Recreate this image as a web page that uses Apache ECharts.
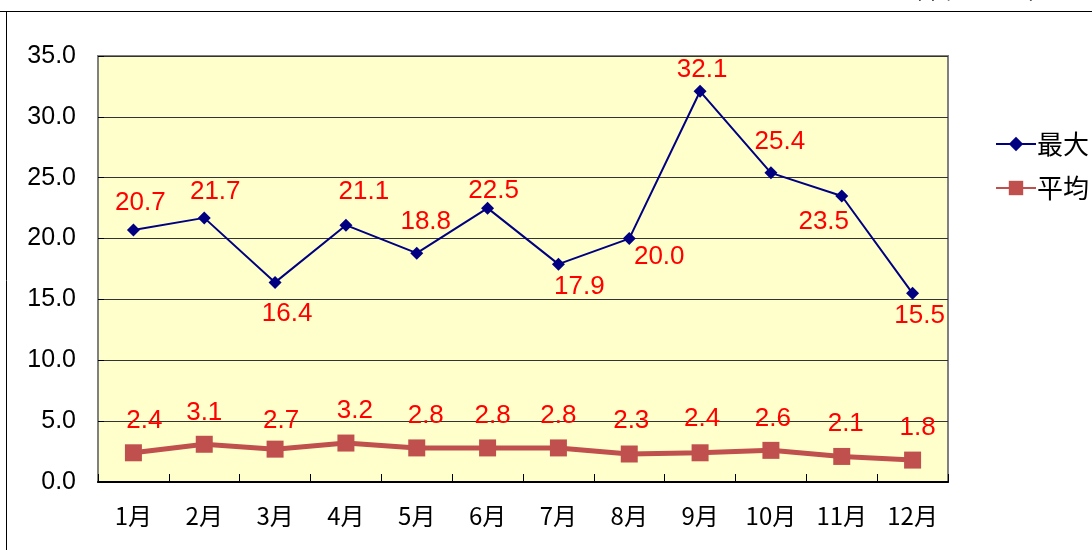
<!DOCTYPE html>
<html>
<head>
<meta charset="utf-8">
<script src="https://cdn.jsdelivr.net/npm/echarts@6/dist/echarts.min.js"></script>
<style>
html,body{margin:0;padding:0;background:#fff;}
#chart{width:1092px;height:550px;}
</style>
</head>
<body>
<div id="chart"></div>
<script>
const categories = ['1月','2月','3月','4月','5月','6月','7月','8月','9月','10月','11月','12月'];
const maxValues = [20.7, 21.7, 16.4, 21.1, 18.8, 22.5, 17.9, 20.0, 32.1, 25.4, 23.5, 15.5];
const avgValues = [2.4, 3.1, 2.7, 3.2, 2.8, 2.8, 2.8, 2.3, 2.4, 2.6, 2.1, 1.8];
const seriesNames = ['最大', '平均'];
const unitText = '（単位：mm）';

// label placement (layout only)
const maxLabelOffsets = [[7,-27],[11,-26],[12,31],[18,-33],[9,-31],[6,-17],[21,23],[30,18],[2,-21],[9,-31],[-18,26],[7,22]];
const avgLabelOffsets = [[11,-32],[0,-31],[6,-28],[9,-32],[9,-32],[5,-32],[0,-32],[2,-33],[2,-34],[2,-32],[4,-33],[5,-32]];

const labelStyle = {
  show: true, position: 'inside', color: '#FF0000', fontSize: 26,
  fontFamily: '"Liberation Sans Narrow", "Liberation Sans", Arial, sans-serif', align: 'center', verticalAlign: 'middle',
  formatter: p => p.value.toFixed(1)
};

function build(values, offsets) {
  return values.map((v, i) => ({ value: v, label: Object.assign({}, labelStyle, { offset: offsets[i] }) }));
}

const chart = echarts.init(document.getElementById('chart'), null, { renderer: 'canvas' });
chart.setOption({
  animation: false,
  backgroundColor: '#ffffff',
  grid: { left: 98, right: 144, top: 56, bottom: 68, show: true, backgroundColor: '#FFFFCC', borderColor: '#808080', borderWidth: 2 },
  graphic: [
    { type: 'line', shape: { x1: 0, y1: 11.5, x2: 1092, y2: 11.5 }, style: { stroke: '#000', lineWidth: 1 } },
    { type: 'line', shape: { x1: 6.5, y1: 11, x2: 6.5, y2: 550 }, style: { stroke: '#000', lineWidth: 1 } },
    { type: 'text', left: 900, top: -21, style: { text: unitText, fontSize: 22, fill: '#000', fontFamily: '"Noto Sans CJK JP", sans-serif' } }
  ],
  legend: {
    orient: 'vertical', left: 990, top: 126, itemGap: 18, itemWidth: 40, itemHeight: 18,
    textStyle: { fontSize: 26, color: '#000', fontFamily: '"Noto Sans CJK JP", sans-serif', padding: [0,0,0,-4] },
    data: seriesNames
  },
  xAxis: {
    type: 'category', data: categories, boundaryGap: true,
    axisLine: { lineStyle: { color: '#000', width: 2 } },
    axisTick: { show: true, inside: true, length: 8, lineStyle: { color: '#000', width: 1 } },
    axisLabel: { color: '#000', fontSize: 24, margin: 22, fontFamily: '"Noto Sans CJK JP", sans-serif' },
    splitLine: { show: false }
  },
  yAxis: {
    type: 'value', min: 0, max: 35, interval: 5,
    axisLine: { show: true, lineStyle: { color: '#808080', width: 2 } },
    axisTick: { show: true, inside: true, length: 6, lineStyle: { color: '#000' } },
    axisLabel: { color: '#000', fontSize: 25, margin: 22, fontFamily: '"Liberation Sans", Arial, sans-serif', formatter: v => v.toFixed(1) },
    splitLine: { show: true, lineStyle: { color: '#333', width: 1 } }
  },
  series: [
    {
      name: seriesNames[0], type: 'line', data: build(maxValues, maxLabelOffsets),
      symbol: 'diamond', symbolSize: 13, color: '#000080',
      lineStyle: { color: '#000080', width: 2 }, itemStyle: { color: '#000080' }, z: 3
    },
    {
      name: seriesNames[1], type: 'line', data: build(avgValues, avgLabelOffsets),
      symbol: 'rect', symbolSize: 17, color: '#C0504D',
      lineStyle: { color: '#C0504D', width: 5 }, itemStyle: { color: '#C0504D' }, z: 2
    }
  ]
});
</script>
</body>
</html>
